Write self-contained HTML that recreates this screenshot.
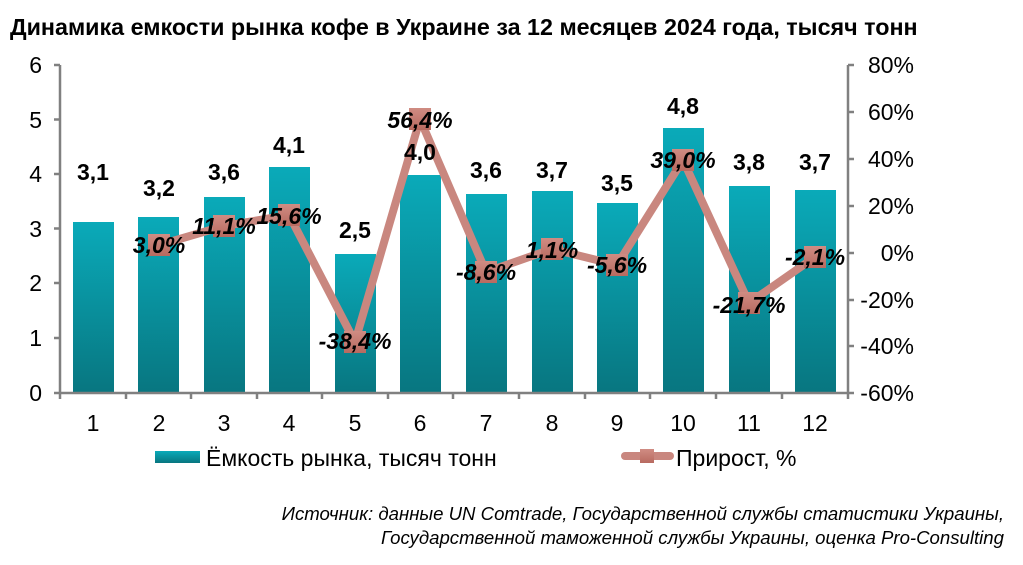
<!DOCTYPE html>
<html><head><meta charset="utf-8"><style>
html,body{margin:0;padding:0;background:#fff}
svg{display:block}
text{font-family:"Liberation Sans",sans-serif}
</style></head><body>
<svg width="1023" height="565" viewBox="0 0 1023 565" xmlns="http://www.w3.org/2000/svg">
<defs>
<linearGradient id="bg" x1="0" y1="0" x2="0" y2="1">
<stop offset="0" stop-color="#0aaab9"/><stop offset="1" stop-color="#087680"/>
</linearGradient>
<linearGradient id="mk" x1="0" y1="0" x2="0" y2="1">
<stop offset="0" stop-color="#d08c83"/><stop offset="1" stop-color="#b86a60"/>
</linearGradient>
</defs>
<text x="10" y="35" font-size="23.3" font-weight="bold">Динамика емкости рынка кофе в Украине за 12 месяцев 2024 года, тысяч тонн</text>
<g fill="url(#bg)">
<rect x="73" y="222" width="41" height="171"/>
<rect x="138" y="217" width="41" height="176"/>
<rect x="204" y="197" width="41" height="196"/>
<rect x="269" y="167" width="41" height="226"/>
<rect x="335" y="254" width="41" height="139"/>
<rect x="400" y="175" width="41" height="218"/>
<rect x="466" y="194" width="41" height="199"/>
<rect x="532" y="191" width="41" height="202"/>
<rect x="597" y="203" width="41" height="190"/>
<rect x="663" y="128" width="41" height="265"/>
<rect x="729" y="186" width="41" height="207"/>
<rect x="795" y="190" width="41" height="203"/>
</g>
<g stroke="#808080" stroke-width="2.5" fill="none">
<line x1="60" y1="65" x2="60" y2="393"/>
<line x1="848" y1="65" x2="848" y2="393"/>
<line x1="60" y1="393" x2="848" y2="393"/>
<path d="M54 65H60M54 119.5H60M54 174H60M54 228.5H60M54 283H60M54 338H60M54 393H60"/>
<path d="M848 65H854M848 112H854M848 159H854M848 206H854M848 253H854M848 300H854M848 346H854M848 393H854"/>
<path d="M126 393V399M191 393V399M257 393V399M322 393V399M388 393V399M453 393V399M519 393V399M585 393V399M650 393V399M716 393V399M782 393V399M848 393V399M60 393V399"/>
</g>
<g font-size="23" text-anchor="end">
<text x="42" y="73">6</text><text x="42" y="128">5</text><text x="42" y="182">4</text><text x="42" y="237">3</text><text x="42" y="291">2</text><text x="42" y="346">1</text><text x="42" y="401">0</text>
</g>
<g font-size="23" text-anchor="end">
<text x="914" y="73">80%</text><text x="914" y="120">60%</text><text x="914" y="167">40%</text><text x="914" y="214">20%</text><text x="914" y="261">0%</text><text x="914" y="308">-20%</text><text x="914" y="354">-40%</text><text x="914" y="401">-60%</text>
</g>
<g font-size="23" text-anchor="middle">
<text x="93" y="431">1</text><text x="159" y="431">2</text><text x="224" y="431">3</text><text x="289" y="431">4</text><text x="355" y="431">5</text><text x="420" y="431">6</text><text x="486" y="431">7</text><text x="552" y="431">8</text><text x="617" y="431">9</text><text x="683" y="431">10</text><text x="749" y="431">11</text><text x="815" y="431">12</text>
</g>
<polyline fill="none" stroke="#c9877f" stroke-width="8" stroke-linejoin="round" points="159,245 224,226 289,215 355,342 420,119 486,272 552,249 617,265 683,160 749,303 815,257"/>
<g fill="url(#mk)">
<rect x="148" y="234" width="22" height="22"/><rect x="213" y="215" width="22" height="22"/><rect x="278" y="204" width="22" height="22"/><rect x="344" y="331" width="22" height="22"/><rect x="409" y="108" width="22" height="22"/><rect x="475" y="261" width="22" height="22"/><rect x="541" y="238" width="22" height="22"/><rect x="606" y="254" width="22" height="22"/><rect x="672" y="149" width="22" height="22"/><rect x="738" y="292" width="22" height="22"/><rect x="804" y="246" width="22" height="22"/>
</g>
<g font-size="23" font-weight="bold" text-anchor="middle">
<text x="93" y="180">3,1</text><text x="159" y="196">3,2</text><text x="224" y="180">3,6</text><text x="289" y="153">4,1</text><text x="355" y="238">2,5</text><text x="420" y="160">4,0</text><text x="486" y="178">3,6</text><text x="552" y="178">3,7</text><text x="617" y="191">3,5</text><text x="683" y="114">4,8</text><text x="749" y="170">3,8</text><text x="815" y="170">3,7</text>
</g>
<g font-size="23" font-weight="bold" font-style="italic" text-anchor="middle">
<text x="159" y="253">3,0%</text><text x="224" y="234">11,1%</text><text x="289" y="224">15,6%</text><text x="355" y="349">-38,4%</text><text x="420" y="128">56,4%</text><text x="486" y="280">-8,6%</text><text x="552" y="258">1,1%</text><text x="617" y="273">-5,6%</text><text x="683" y="168">39,0%</text><text x="749" y="313">-21,7%</text><text x="815" y="265">-2,1%</text>
</g>
<rect x="155" y="451" width="45" height="12" fill="url(#bg)"/>
<text x="206" y="466" font-size="23">Ёмкость рынка, тысяч тонн</text>
<line x1="625" y1="456" x2="670" y2="456" stroke="#c9877f" stroke-width="8" stroke-linecap="round"/>
<rect x="640" y="449" width="14" height="14" fill="url(#mk)"/>
<text x="676" y="466" font-size="23">Прирост, %</text>
<g font-size="18.6" font-style="italic" text-anchor="end">
<text x="1004" y="520">Источник: данные UN Comtrade, Государственной службы статистики Украины,</text>
<text x="1004" y="544">Государственной таможенной службы Украины, оценка Pro-Consulting</text>
</g>
</svg>
</body></html>
